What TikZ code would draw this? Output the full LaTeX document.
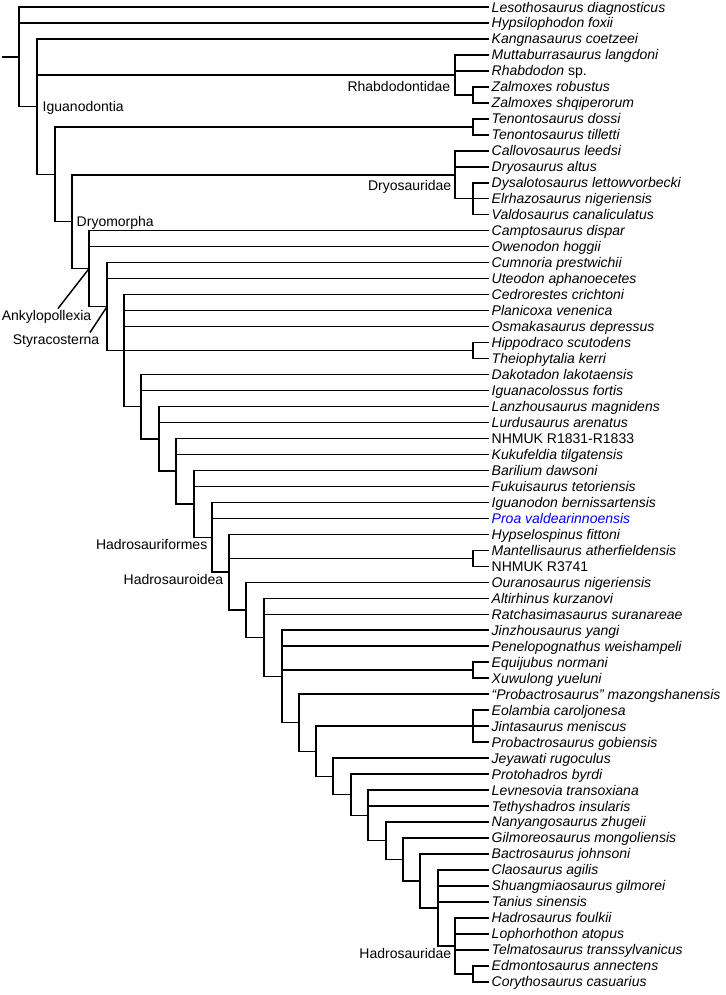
\documentclass[tikz,border=0pt]{standalone}
\usepackage{fontspec}
\setmainfont{Liberation Sans}
\usepackage{xcolor}
\definecolor{proablue}{RGB}{0,0,255}
\tikzset{
  leaf/.style={anchor=west, font=\fontsize{10.5}{12}\selectfont\itshape, inner xsep=1.5pt, inner ysep=0pt, text height=7.5pt, text depth=0pt},
  clade/.style={font=\fontsize{10.5}{12}\selectfont, inner xsep=1.5pt, inner ysep=0pt, text height=7.5pt, text depth=0pt},
  branch/.style={line width=1.1pt}
}

\begin{document}
\begin{tikzpicture}[x=0.75pt, y=-11.985pt, branch]
  \useasboundingbox (0,-0.438) rectangle (725,61.827);

  % terminal taxa, one per row
  \foreach \taxon [count=\r from 0] in {
      Lesothosaurus diagnosticus, Hypsilophodon foxii, Kangnasaurus coetzeei,
      Muttaburrasaurus langdoni, Rhabdodon \textup{sp.}, Zalmoxes robustus,
      Zalmoxes shqiperorum, Tenontosaurus dossi, Tenontosaurus tilletti,
      Callovosaurus leedsi, Dryosaurus altus, Dysalotosaurus lettowvorbecki,
      Elrhazosaurus nigeriensis, Valdosaurus canaliculatus, Camptosaurus dispar,
      Owenodon hoggii, Cumnoria prestwichii, Uteodon aphanoecetes,
      Cedrorestes crichtoni, Planicoxa venenica, Osmakasaurus depressus,
      Hippodraco scutodens, Theiophytalia kerri, Dakotadon lakotaensis,
      Iguanacolossus fortis, Lanzhousaurus magnidens, Lurdusaurus arenatus,
      \textup{NHMUK R1831-R1833}, Kukufeldia tilgatensis, Barilium dawsoni,
      Fukuisaurus tetoriensis, Iguanodon bernissartensis,
      \textcolor{proablue}{Proa valdearinnoensis}, Hypselospinus fittoni,
      Mantellisaurus atherfieldensis, \textup{NHMUK R3741}, Ouranosaurus nigeriensis,
      Altirhinus kurzanovi, Ratchasimasaurus suranareae, Jinzhousaurus yangi,
      Penelopognathus weishampeli, Equijubus normani, Xuwulong yueluni,
      “Probactrosaurus” mazongshanensis, Eolambia caroljonesa, Jintasaurus meniscus,
      Probactrosaurus gobiensis, Jeyawati rugoculus, Protohadros byrdi,
      Levnesovia transoxiana, Tethyshadros insularis, Nanyangosaurus zhugeii,
      Gilmoreosaurus mongoliensis, Bactrosaurus johnsoni, Claosaurus agilis,
      Shuangmiaosaurus gilmorei, Tanius sinensis, Hadrosaurus foulkii,
      Lophorhothon atopus, Telmatosaurus transsylvanicus, Edmontosaurus annectens,
      Corythosaurus casuarius}
    \node[leaf] (l\r) at (489,\r) {\taxon};

  % internal nodes
  \coordinate (stem) at (2,3.117);
  \coordinate (root) at (19,3.117);
  \coordinate (igu) at (37,6.234);
  \coordinate (rha) at (455,4.25);
  \coordinate (zal) at (473,5.5);
  \coordinate (n55) at (55,10.469);
  \coordinate (ten) at (473,7.5);
  \coordinate (dmo) at (72,13.438);
  \coordinate (dry) at (455,10.5);
  \coordinate (val) at (473,12);
  \coordinate (ank) at (89,16.376);
  \coordinate (sty) at (107,18.753);
  \coordinate (n124) at (124,21.506);
  \coordinate (hip) at (473,21.5);
  \coordinate (n141) at (141,25.011);
  \coordinate (n159) at (159,27.023);
  \coordinate (n176) at (176,29.045);
  \coordinate (n194) at (194,31.09);
  \coordinate (hfo) at (212,33.181);
  \coordinate (hdr) at (229,35.362);
  \coordinate (man) at (473,34.5);
  \coordinate (n246) at (246,37.723);
  \coordinate (n264) at (264,39.447);
  \coordinate (n282) at (282,41.893);
  \coordinate (equ) at (473,41.5);
  \coordinate (n299) at (299,44.787);
  \coordinate (n316) at (316,46.573);
  \coordinate (eol) at (473,45);
  \coordinate (n333) at (333,48.146);
  \coordinate (n351) at (351,49.293);
  \coordinate (n368) at (368,50.586);
  \coordinate (n386) at (386,52.172);
  \coordinate (n403) at (403,53.344);
  \coordinate (n420) at (420,54.688);
  \coordinate (n438) at (438,56.375);
  \coordinate (had) at (455,58.75);
  \coordinate (edm) at (473,60.5);

  % root
  \draw (stem) -- (root);
  \draw (l0.west) -| (root) |- (igu);
  \draw (root |- l1.west) -- (l1.west);
  % Iguanodontia
  \draw (l2.west) -| (igu) |- (n55);
  \draw (igu |- rha) -- (rha);
  % Rhabdodontidae
  \draw (l3.west) -| (rha) |- (zal);
  \draw (rha |- l4.west) -- (l4.west);
  \draw (l5.west) -| (zal) |- (l6.west);
  \draw (ten) -| (n55) |- (dmo);
  \draw (l7.west) -| (ten) |- (l8.west);
  % Dryomorpha
  \draw (dry) -| (dmo) |- (ank);
  \draw (l9.west) -| (dry) |- (val);
  \draw (dry |- l10.west) -- (l10.west);
  \draw (l11.west) -| (val) |- (l13.west);
  \draw (val) -- (l12.west);
  % Ankylopollexia
  \draw (l14.west) -| (ank) |- (sty);
  \draw (ank |- l15.west) -- (l15.west);
  % Styracosterna
  \draw (l16.west) -| (sty) |- (n124);
  \draw (sty |- l17.west) -- (l17.west);
  \draw (l18.west) -| (n124) |- (n141);
  \draw (n124 |- l19.west) -- (l19.west);
  \draw (n124 |- l20.west) -- (l20.west);
  \draw (n124 |- hip) -- (hip);
  \draw (l21.west) -| (hip) |- (l22.west);
  \draw (l23.west) -| (n141) |- (n159);
  \draw (n141 |- l24.west) -- (l24.west);
  \draw (l25.west) -| (n159) |- (n176);
  \draw (n159 |- l26.west) -- (l26.west);
  \draw (l27.west) -| (n176) |- (n194);
  \draw (n176 |- l28.west) -- (l28.west);
  \draw (l29.west) -| (n194) |- (hfo);
  \draw (n194 |- l30.west) -- (l30.west);
  % Hadrosauriformes
  \draw (l31.west) -| (hfo) |- (hdr);
  \draw (hfo |- l32.west) -- (l32.west);
  % Hadrosauroidea
  \draw (l33.west) -| (hdr) |- (n246);
  \draw (hdr |- man) -- (man);
  \draw (l34.west) -| (man) |- (l35.west);
  \draw (l36.west) -| (n246) |- (n264);
  \draw (l37.west) -| (n264) |- (n282);
  \draw (n264 |- l38.west) -- (l38.west);
  \draw (l39.west) -| (n282) |- (n299);
  \draw (n282 |- l40.west) -- (l40.west);
  \draw (n282 |- equ) -- (equ);
  \draw (l41.west) -| (equ) |- (l42.west);
  \draw (l43.west) -| (n299) |- (n316);
  \draw (eol) -| (n316) |- (n333);
  \draw (l44.west) -| (eol) |- (l46.west);
  \draw (eol) -- (l45.west);
  \draw (l47.west) -| (n333) |- (n351);
  \draw (l48.west) -| (n351) |- (n368);
  \draw (l49.west) -| (n368) |- (n386);
  \draw (n368 |- l50.west) -- (l50.west);
  \draw (l51.west) -| (n386) |- (n403);
  \draw (l52.west) -| (n403) |- (n420);
  \draw (l53.west) -| (n420) |- (n438);
  \draw (l54.west) -| (n438) |- (had);
  \draw (n438 |- l55.west) -- (l55.west);
  \draw (n438 |- l56.west) -- (l56.west);
  % Hadrosauridae
  \draw (l57.west) -| (had) |- (edm);
  \draw (had |- l58.west) -- (l58.west);
  \draw (had |- l59.west) -- (l59.west);
  \draw (l60.west) -| (edm) |- (l61.west);

  % clade names
  \node[clade, anchor=west] (igul) at (40,6.234) {Iguanodontia};
  \node[clade, anchor=west] (dmol) at (74,13.438) {Dryomorpha};
  \node[clade, anchor=east] (rhal) at (453,4.99) {Rhabdodontidae};
  \node[clade, anchor=east] (dryl) at (454,11.14) {Dryosauridae};
  \node[clade, anchor=east] (ankl) at (94,19.29) {Ankylopollexia};
  \node[clade, anchor=east] (styl) at (102,20.79) {Styracosterna};
  \node[clade, anchor=east] (hfol) at (210,33.63) {Hadrosauriformes};
  \node[clade, anchor=east] (hdrl) at (226,35.84) {Hadrosauroidea};
  \node[clade, anchor=east] (hadl) at (454,59.2) {Hadrosauridae};
  \draw ([xshift=-27pt,yshift=0.75pt]ankl.north east) -- (ank);
  \draw ([xshift=-9pt,yshift=0.75pt]styl.north east) -- (sty);
\end{tikzpicture}
\end{document}
